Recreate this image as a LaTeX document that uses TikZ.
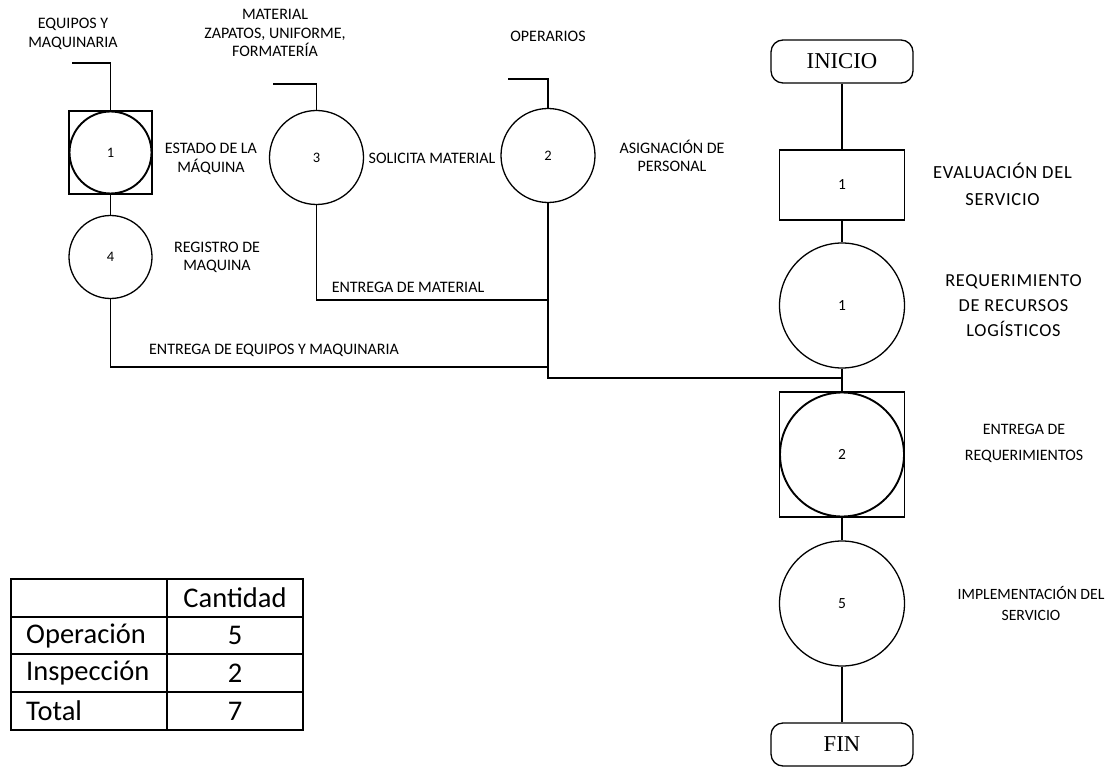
\documentclass[tikz,border=0pt]{standalone}
\usepackage{fontspec}
\setmainfont{Carlito}
\newfontfamily\serifb{Liberation Serif}
\newfontfamily\spacedf[LetterSpace=4]{Carlito}
\newcommand{\fsz}[2]{\fontsize{#1}{#2}\selectfont}
\tikzset{
  ln/.style={line width=1.3pt, draw=black},
  opc/.style={circle, draw, line width=1.3pt, inner sep=0pt, font=\fsz{14.5}{17}},
  thk/.style={circle, draw, line width=1.9pt, inner sep=0pt, font=\fsz{14.5}{17}},
  sqbox/.style={rectangle, draw, line width=1.3pt, inner sep=0pt},
  term/.style={rectangle, rounded corners=12pt, draw, line width=1.3pt, minimum width=142pt, minimum height=43pt, inner sep=0pt, font=\serifb\fsz{22.7}{26}},
  lbl/.style={align=center, inner sep=0pt, font=\fsz{16}{18.5}},
  rlbl/.style={align=center, inner sep=0pt, font=\spacedf\fsz{18.5}{27}},
  tcell/.style={inner sep=0pt, font=\fsz{28.5}{34}}
}
\begin{document}
\begin{tikzpicture}[x=1pt,y=-1pt]
\useasboundingbox (0,0) rectangle (1118,767);
% ---------- left column ----------
\node[sqbox, minimum width=83pt, minimum height=83pt] (sq1) at (110.5,152.5) {};
\node[thk, minimum size=82pt] (c1) at (110.5,152.5) {1};
\node[opc, minimum size=83pt] (c4) at (110.5,257) {4};
\node[opc, minimum size=94pt] (c3) at (316.5,157.5) {3};
\node[opc, minimum size=94pt] (c2) at (548,155.5) {2};
\coordinate (in1) at (72,63);
\coordinate (in3) at (273,84);
\coordinate (in2) at (508,79);
\coordinate (j1) at (548,300);
\coordinate (j2) at (548,367);
\coordinate (j3) at (548,378);
\draw[ln] (in1) -| (sq1.north);
\draw[ln] (in3) -| (c3.north);
\draw[ln] (in2) -| (c2.north);
\draw[ln] (sq1.south) -- (c4.north);
\draw[ln] (c3.south) |- (j1);
\draw[ln] (c4.south) |- (j2);
% labels left
\node[lbl] (t1) at (73,34) {EQUIPOS Y\\MAQUINARIA};
\node[lbl] (t2) at (275,33) {MATERIAL\\ZAPATOS, UNIFORME,\\FORMATERÍA};
\node[lbl] (t3) at (548,36) {OPERARIOS};
\node[lbl] (t4) at (211,159) {ESTADO DE LA\\MÁQUINA};
\node[lbl] (t5) at (217,257.5) {REGISTRO DE\\MAQUINA};
\node[lbl] (t6) at (432,158) {SOLICITA MATERIAL};
\node[lbl] (t7) at (672,156) {ASIGNACIÓN DE\\PERSONAL};
\node[lbl] (t8) at (408,287) {ENTREGA DE MATERIAL};
\node[lbl] (t9) at (274,350) {ENTREGA DE EQUIPOS Y MAQUINARIA};
% ---------- right column ----------
\node[term] (ini) at (842,61.5) {INICIO};
\node[sqbox, minimum width=125pt, minimum height=70pt, font=\fsz{15.5}{18}] (e1) at (842,185) {1};
\node[opc, minimum size=125pt, font=\fsz{15.5}{18}] (r1) at (842,305.5) {1};
\node[sqbox, minimum width=125pt, minimum height=125pt] (sq2) at (842,454.5) {};
\node[thk, minimum size=124pt, font=\fsz{15.5}{18}] (i2) at (842,454.5) {2};
\node[opc, minimum size=125pt, font=\fsz{15.5}{18}] (c5) at (842,603.5) {5};
\node[term] (fin) at (842,744.5) {FIN};
\draw[ln] (ini.south) -- (e1.north);
\draw[ln] (e1.south) -- (r1.north);
\draw[ln] (r1.south) -- (sq2.north);
\draw[ln] (sq2.south) -- (c5.north);
\draw[ln] (c5.south) -- (fin.north);
\draw[ln] (c2.south) -- (j3) -- (r1.south |- j3);
% labels right
\node[rlbl] (u1) at (1002.5,184.5) {EVALUACIÓN DEL\\SERVICIO};
\node[rlbl, font=\spacedf\fsz{18.3}{25}] (u2) at (1013.5,306) {REQUERIMIENTO\\DE RECURSOS\\LOGÍSTICOS};
\node[lbl, font=\fsz{15.9}{26.5}] (u3) at (1024,443.5) {ENTREGA DE\\REQUERIMIENTOS};
\node[lbl, font=\fsz{15.7}{21}] (u4) at (1031,603.5) {IMPLEMENTACIÓN DEL\\SERVICIO};
% ---------- table ----------
\draw[line width=1.3pt] (11,579) rectangle (303,730);
\draw[line width=1.3pt] (167,579) -- (167,730);
\draw[line width=1.3pt] (11,617) -- (303,617);
\draw[line width=1.3pt] (11,654) -- (303,654);
\draw[line width=1.3pt] (11,692) -- (303,692);
\node[tcell] (h1) at (235,598) {Cantidad};
\node[tcell, anchor=west] (a1) at (26,635.5) {Operación};
\node[tcell, anchor=west] (a2) at (26,673) {Inspección};
\node[tcell, anchor=west] (a3) at (26,711) {Total};
\node[tcell] (b1) at (235,635.5) {5};
\node[tcell] (b2) at (235,673) {2};
\node[tcell] (b3) at (235,711) {7};
\end{tikzpicture}
\end{document}
